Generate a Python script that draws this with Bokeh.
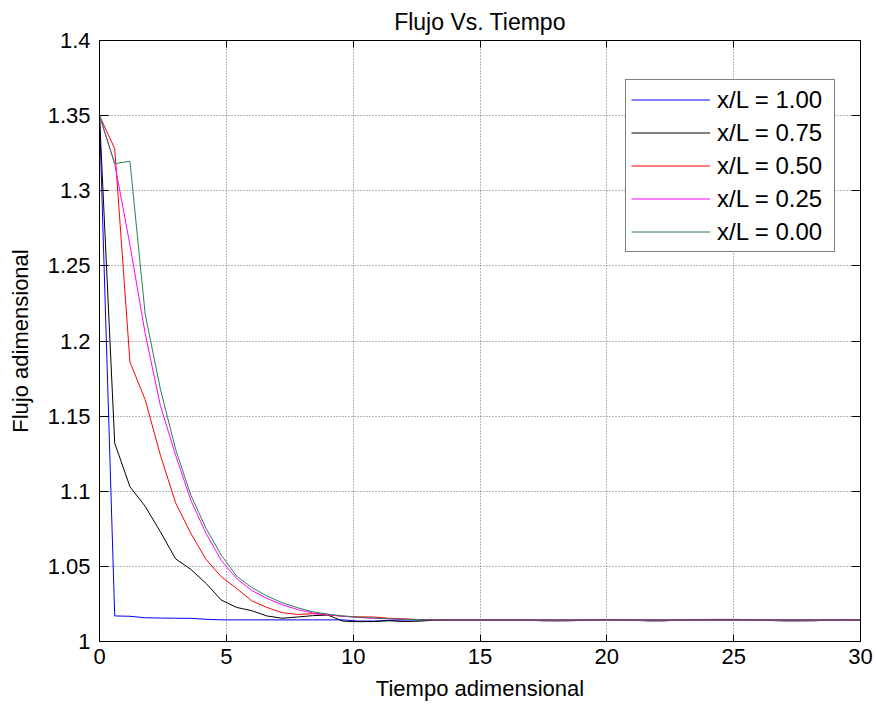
from bokeh.plotting import figure
from bokeh.models import (Legend, LegendItem, LinearAxis, FixedTicker, Range1d)
from bokeh.embed import file_html
from bokeh.resources import INLINE

# ---- data ----
t = [0.0, 0.6, 1.2, 1.8, 2.4, 3.0, 3.6, 4.2, 4.8, 5.4,
     6.0, 6.6, 7.2, 7.8, 8.4, 9.0, 9.6, 10.2, 10.8, 11.4,
     12.0, 12.6, 13.2, 13.8, 14.4, 15.0, 15.6, 16.2, 16.8, 17.4,
     18.0, 18.6, 19.2, 19.8, 20.4, 21.0, 21.6, 22.2, 22.8, 23.4,
     24.0, 24.6, 25.2, 25.8, 26.4, 27.0, 27.6, 28.2, 28.8, 29.4, 30.0]

f_100 = [1.350, 1.0170, 1.0168, 1.0158, 1.0156, 1.0155, 1.0154, 1.0148, 1.0144, 1.0144,
         1.0144, 1.0144, 1.0144, 1.0144, 1.0144, 1.0144, 1.0144, 1.0136, 1.0136, 1.0140,
         1.0143, 1.0143, 1.0143, 1.0143, 1.0143, 1.0143, 1.0143, 1.0143, 1.0143, 1.0143,
         1.0143, 1.0143, 1.0143, 1.0143, 1.0143, 1.0143, 1.0143, 1.0143, 1.0143, 1.0143,
         1.0143, 1.0143, 1.0143, 1.0143, 1.0143, 1.0143, 1.0143, 1.0143, 1.0143, 1.0143, 1.0143]

f_075 = [1.350, 1.132, 1.103, 1.090, 1.073, 1.055, 1.048, 1.0387, 1.0276, 1.0227,
         1.0205, 1.0170, 1.0155, 1.0163, 1.0172, 1.0176, 1.0135, 1.0132, 1.0133, 1.0138,
         1.0133, 1.0135, 1.0142, 1.0143, 1.0143, 1.0143, 1.0143, 1.0143, 1.0143, 1.0138,
         1.0137, 1.0138, 1.0142, 1.0147, 1.0146, 1.0142, 1.0137, 1.0137, 1.0142, 1.0146,
         1.0147, 1.0147, 1.0147, 1.0145, 1.0140, 1.0137, 1.0137, 1.0138, 1.0143, 1.0146, 1.0143]

f_050 = [1.350, 1.328, 1.186, 1.161, 1.124, 1.0923, 1.072, 1.0547, 1.0431, 1.0354,
         1.0271, 1.0227, 1.0192, 1.0180, 1.0185, 1.0178, 1.0168, 1.0164, 1.0163, 1.0155,
         1.0150, 1.0146, 1.0144, 1.0143, 1.0143, 1.0143, 1.0143, 1.0143, 1.0143, 1.0143,
         1.0143, 1.0143, 1.0143, 1.0143, 1.0143, 1.0143, 1.0143, 1.0143, 1.0143, 1.0143,
         1.0143, 1.0143, 1.0143, 1.0143, 1.0143, 1.0143, 1.0143, 1.0143, 1.0143, 1.0143, 1.0143]

f_025 = [1.350, 1.318, 1.264, 1.205, 1.157, 1.124, 1.094, 1.072, 1.054, 1.042,
         1.034, 1.0287, 1.0245, 1.0213, 1.0190, 1.0178, 1.0168, 1.0160, 1.0155, 1.0151,
         1.0148, 1.0146, 1.0144, 1.0143, 1.0143, 1.0143, 1.0143, 1.0143, 1.0143, 1.0143,
         1.0143, 1.0143, 1.0143, 1.0143, 1.0143, 1.0143, 1.0143, 1.0143, 1.0143, 1.0143,
         1.0143, 1.0143, 1.0143, 1.0143, 1.0143, 1.0143, 1.0143, 1.0143, 1.0143, 1.0143, 1.0143]

f_000 = [1.350, 1.318, 1.3197, 1.218, 1.168, 1.128, 1.0974, 1.0753, 1.0575, 1.0436,
         1.036, 1.0303, 1.0258, 1.0225, 1.0198, 1.0182, 1.0170, 1.0162, 1.0156, 1.0151,
         1.0148, 1.0146, 1.0144, 1.0143, 1.0143, 1.0143, 1.0143, 1.0143, 1.0143, 1.0143,
         1.0143, 1.0143, 1.0143, 1.0143, 1.0143, 1.0143, 1.0143, 1.0143, 1.0143, 1.0143,
         1.0143, 1.0143, 1.0143, 1.0143, 1.0143, 1.0143, 1.0143, 1.0143, 1.0143, 1.0143, 1.0143]

series_labels = ["x/L = 1.00", "x/L = 0.75", "x/L = 0.50", "x/L = 0.25", "x/L = 0.00"]
series_colors = ["#0000ff", "#000000", "#ff0000", "#ff00ff", "#2a8050"]
series_values = [f_100, f_075, f_050, f_025, f_000]

x_ticks = [0, 5, 10, 15, 20, 25, 30]
x_tick_labels = ["0", "5", "10", "15", "20", "25", "30"]
y_ticks = [1.0, 1.05, 1.1, 1.15, 1.2, 1.25, 1.3, 1.35, 1.4]
y_tick_labels = ["1", "1.05", "1.1", "1.15", "1.2", "1.25", "1.3", "1.35", "1.4"]

title_text = "Flujo Vs. Tiempo"
x_label = "Tiempo adimensional"
y_label = "Flujo adimensional"

FONT = "Liberation Sans"

p = figure(width=876, height=705, output_backend="svg", toolbar_location=None,
           x_range=Range1d(0, 30), y_range=Range1d(1.0, 1.4),
           min_border_left=99, min_border_right=16, min_border_top=40, min_border_bottom=64,
           title=title_text)
p.background_fill_color = "white"
p.border_fill_color = "white"
p.outline_line_color = "black"
p.outline_line_width = 1

p.title.text_font = FONT
p.title.text_font_size = "23px"
p.title.text_font_style = "normal"
p.title.text_color = "black"
p.title.align = "center"
p.title.offset = 0
p.title.standoff = 12

renderers = []
for vals, col in zip(series_values, series_colors):
    r = p.line(t, vals, line_color=col, line_width=1)
    renderers.append(r)

# axes styling
for ax, ticks, labels in ((p.xaxis[0], x_ticks, x_tick_labels), (p.yaxis[0], y_ticks, y_tick_labels)):
    ax.ticker = FixedTicker(ticks=ticks)
    ax.major_label_overrides = {tk: lb for tk, lb in zip(ticks, labels)}
    ax.major_label_text_font = FONT
    ax.major_label_text_font_size = "22px"
    ax.major_label_text_color = "black"
    ax.axis_label_text_font = FONT
    ax.axis_label_text_font_size = "22px"
    ax.axis_label_text_font_style = "normal"
    ax.axis_label_text_color = "black"
    ax.axis_line_color = "black"
    ax.major_tick_line_color = "black"
    ax.major_tick_out = 0
    ax.minor_tick_line_color = None

p.xaxis[0].axis_label = x_label
p.yaxis[0].axis_label = y_label
p.xaxis[0].major_tick_in = 7
p.yaxis[0].major_tick_in = 9
p.xaxis[0].major_label_standoff = 7
p.xaxis[0].axis_label_standoff = 9
p.yaxis[0].major_label_standoff = 9
p.yaxis[0].axis_label_standoff = 12

# mirrored axes (top/right) with inward ticks, labels hidden
top_ax = LinearAxis(ticker=FixedTicker(ticks=x_ticks),
                    major_label_overrides={tk: "" for tk in x_ticks},
                    major_label_text_font_size="1px", major_label_text_color=None,
                    major_label_standoff=0, major_tick_in=7, major_tick_out=0,
                    minor_tick_line_color=None, axis_line_color="black")
right_ax = LinearAxis(ticker=FixedTicker(ticks=y_ticks),
                      major_label_overrides={tk: "" for tk in y_ticks},
                      major_label_text_font_size="1px", major_label_text_color=None,
                      major_label_standoff=0, major_tick_in=9, major_tick_out=0,
                      minor_tick_line_color=None, axis_line_color="black")
p.add_layout(top_ax, "above")
p.add_layout(right_ax, "right")

# grid
for g in (p.xgrid[0], p.ygrid[0]):
    g.grid_line_color = "#333333"
    g.grid_line_alpha = 0.7
    g.grid_line_dash = "1 2"
    g.grid_line_width = 1
p.xgrid[0].ticker = FixedTicker(ticks=x_ticks)
p.ygrid[0].ticker = FixedTicker(ticks=y_ticks)

legend = Legend(items=[LegendItem(label=lb, renderers=[r]) for lb, r in zip(series_labels, renderers)],
                location=(526, 389), orientation="vertical")
legend.label_text_font = FONT
legend.label_text_font_size = "24px"
legend.label_text_color = "black"
legend.glyph_width = 79
legend.glyph_height = 29
legend.label_height = 29
legend.label_width = 112
legend.label_standoff = 7
legend.spacing = 4
legend.padding = 5
legend.margin = 0
legend.border_line_color = "black"
legend.border_line_width = 1
legend.background_fill_color = "white"
legend.background_fill_alpha = 1
p.add_layout(legend, "center")

open("out.html", "w").write(file_html(p, INLINE))
